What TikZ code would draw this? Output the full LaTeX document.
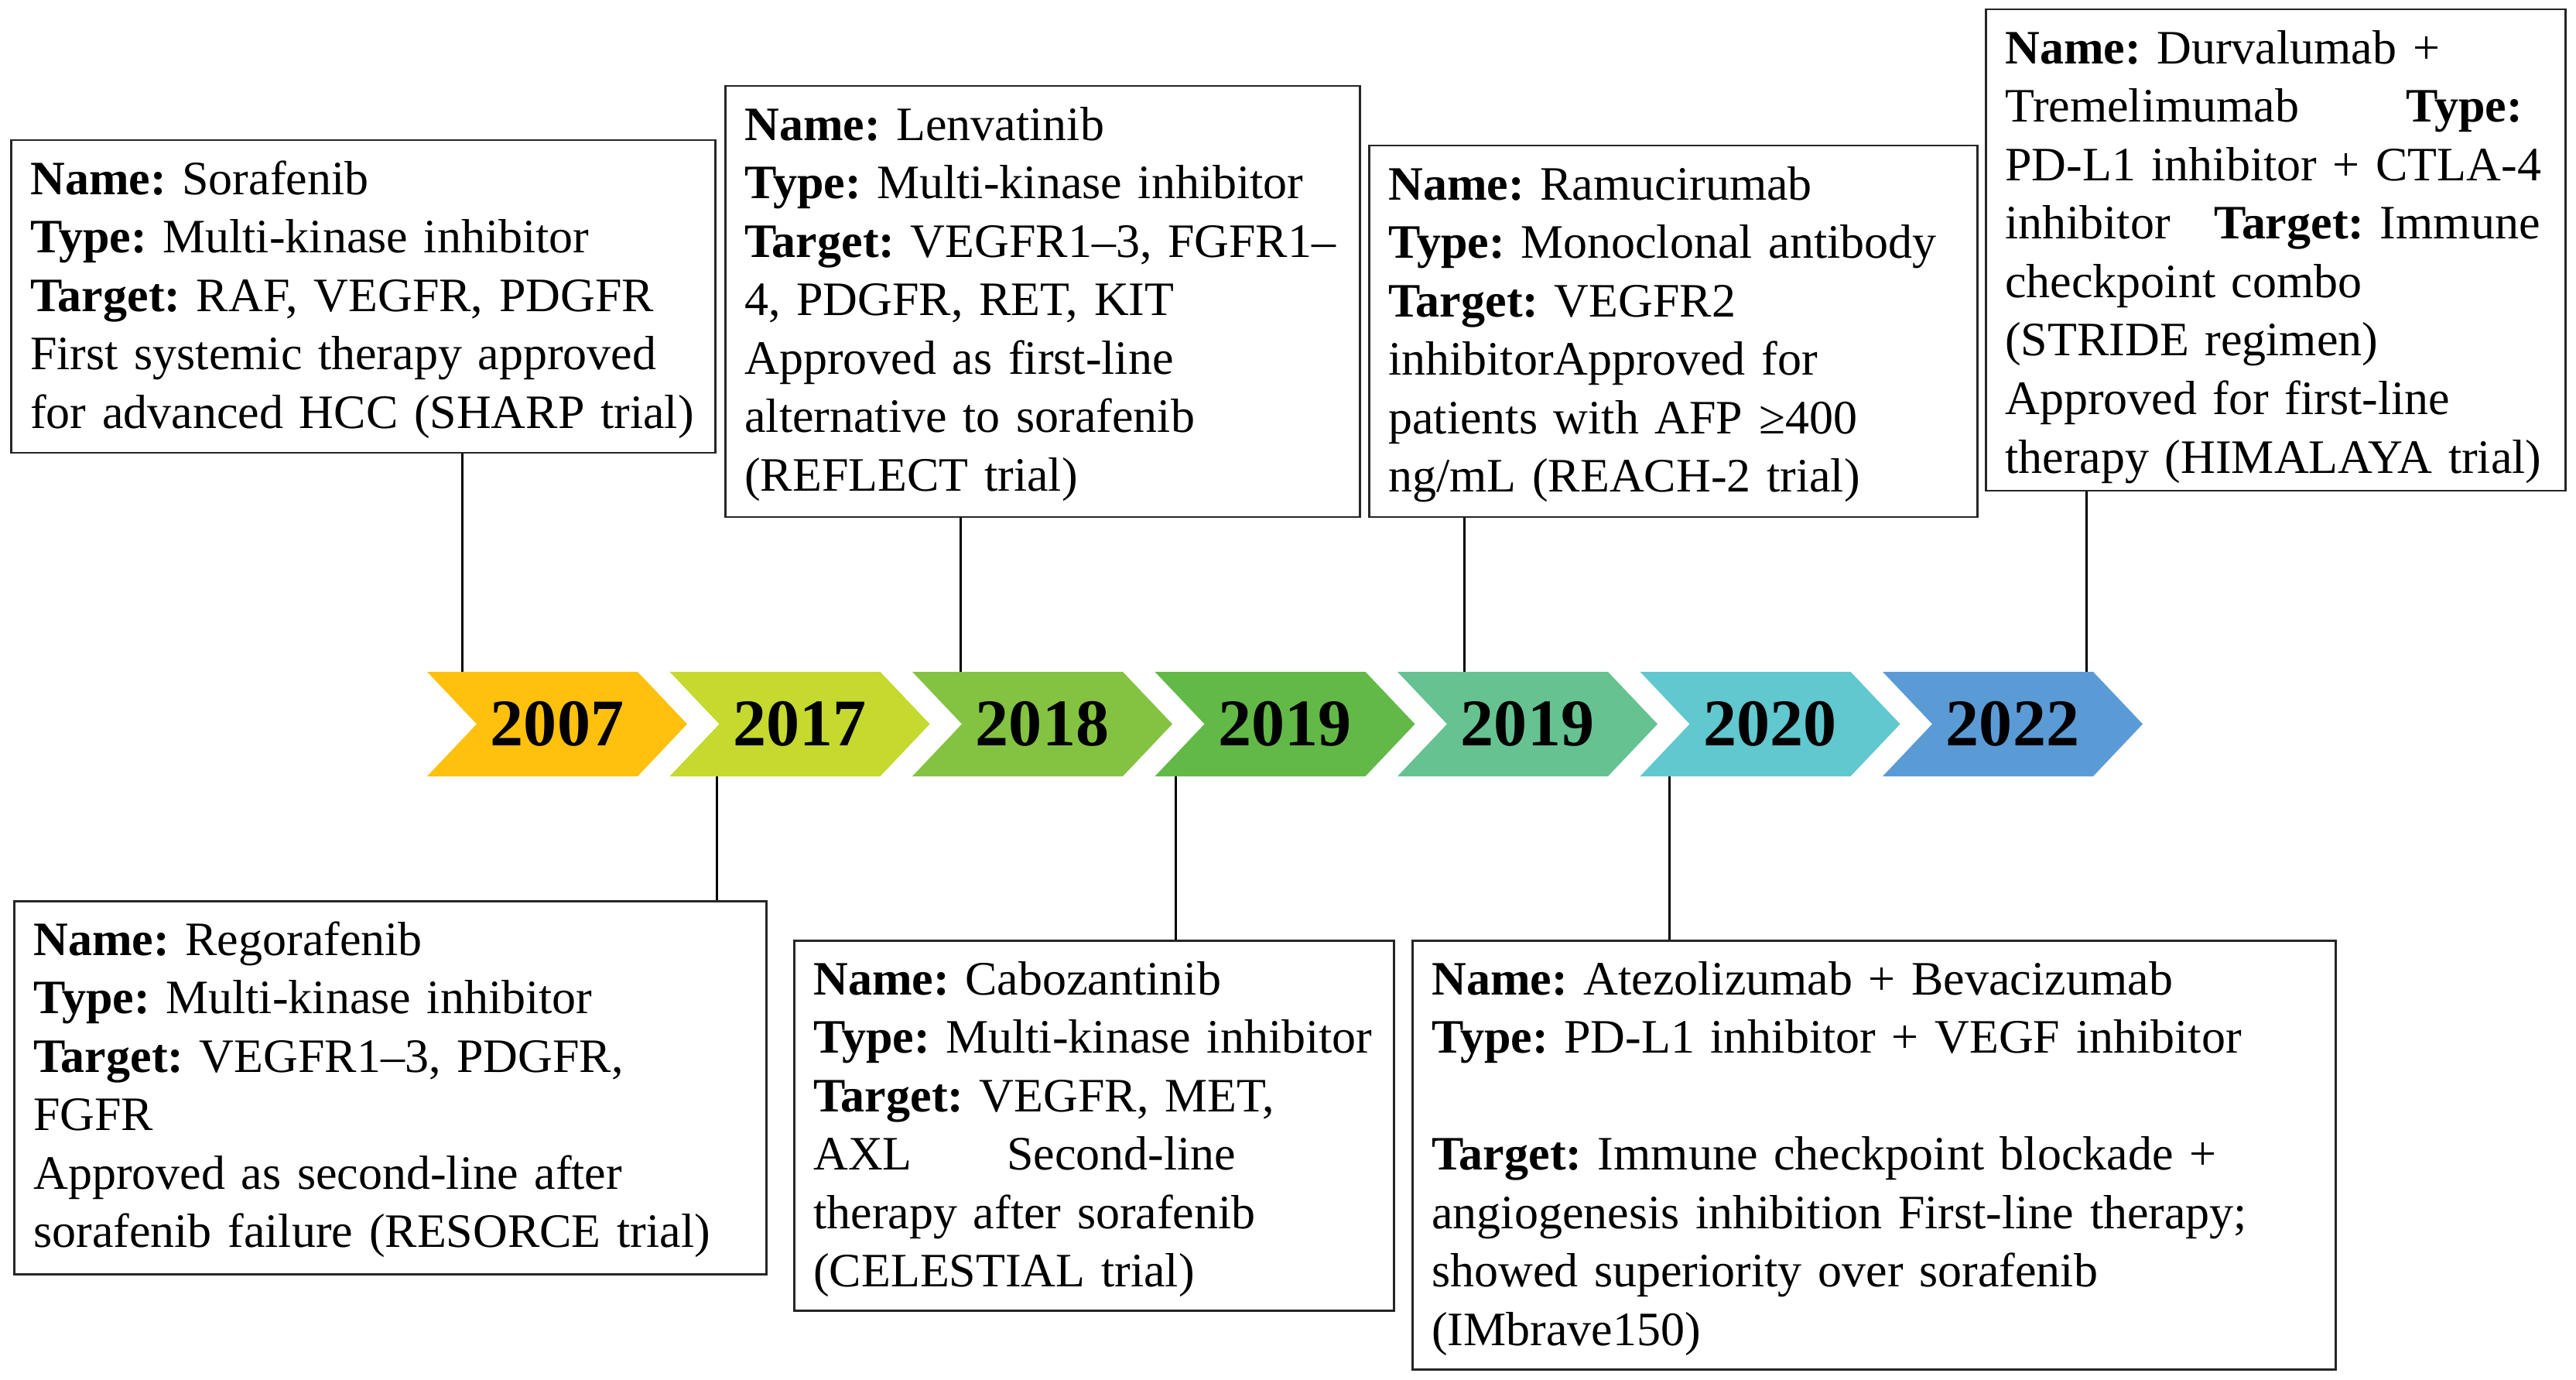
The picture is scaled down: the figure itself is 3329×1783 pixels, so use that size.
\documentclass[tikz,border=0pt]{standalone}
\usepackage{fontspec}
\setmainfont{Liberation Serif}
\definecolor{cA}{RGB}{255,193,14}
\definecolor{cB}{RGB}{197,217,46}
\definecolor{cC}{RGB}{132,195,65}
\definecolor{cD}{RGB}{98,185,71}
\definecolor{cE}{RGB}{102,194,145}
\definecolor{cF}{RGB}{96,200,206}
\definecolor{cG}{RGB}{91,155,213}
\newcommand{\boxbody}[2]{\vbox to #1{\frenchspacing\hyphenpenalty=10000\exhyphenpenalty=10000\leftskip=2.5mm\rightskip=0pt plus 1fil\vskip 1.7mm\relax\strut #2\par\vfil}}
\newcommand{\chev}[2]{\fill[#2] (#1,868) -- ++(272,0) -- ++(64,67.5) -- ++(-64,67.5) -- ++(-272,0) -- ++(64,-67.5) -- cycle;}
\tikzset{
  info/.style={draw=black!85, line width=0.25mm, fill=white, anchor=north west,
    inner xsep=0pt, inner ysep=0pt, align=left,
    font=\fontsize{17.64}{21.5}\selectfont},
  yearlbl/.style={font=\fontsize{24.5}{28}\selectfont\bfseries, inner sep=0pt,
    minimum width=33.6mm, minimum height=13.5mm},
  conn/.style={line width=0.3mm, black},
}
\begin{document}
\begin{tikzpicture}[x=0.1mm,y=-0.1mm]
\useasboundingbox (0,0) rectangle (3329,1783);

% boxes
\node[info, text width=91.0mm] (b1) at (13,180) {\boxbody{40.4mm}{\textbf{Name:} Sorafenib\\ \textbf{Type:} Multi-kinase inhibitor\\ \textbf{Target:} RAF, VEGFR, PDGFR\\ First systemic therapy approved\\ for advanced HCC (SHARP trial)}};
\node[info, text width=82.0mm] (b2) at (936,110) {\boxbody{55.7mm}{\textbf{Name:} Lenvatinib\\ \textbf{Type:} Multi-kinase inhibitor\\ \textbf{Target:} VEGFR1–3, FGFR1–\\ 4, PDGFR, RET, KIT\\ Approved as first-line\\ alternative to sorafenib\\ (REFLECT trial)}};
\node[info, text width=78.6mm] (b3) at (1768,187) {\boxbody{48.0mm}{\textbf{Name:} Ramucirumab\\ \textbf{Type:} Monoclonal antibody\\ \textbf{Target:} VEGFR2\\ inhibitorApproved for\\ patients with AFP ≥400\\ ng/mL (REACH-2 trial)}};
\node[info, text width=74.9mm] (b4) at (2565,11) {\boxbody{62.2mm}{\textbf{Name:} Durvalumab +\\ \makebox[51.8mm][l]{Tremelimumab}\textbf{Type:}\\ PD-L1 inhibitor + CTLA-4\\ \makebox[27mm][l]{inhibitor}\textbf{Target:} Immune\\ checkpoint combo\\ (STRIDE regimen)\\ Approved for first-line\\ therapy (HIMALAYA trial)}};
\node[info, text width=97.2mm] (b5) at (17,1163) {\boxbody{48.2mm}{\textbf{Name:} Regorafenib\\ \textbf{Type:} Multi-kinase inhibitor\\ \textbf{Target:} VEGFR1–3, PDGFR,\\ FGFR\\ Approved as second-line after\\ sorafenib failure (RESORCE trial)}};
\node[info, text width=77.5mm] (b6) at (1025,1214) {\boxbody{47.8mm}{\textbf{Name:} Cabozantinib\\ \textbf{Type:} Multi-kinase inhibitor\\ \textbf{Target:} VEGFR, MET,\\ \makebox[25mm][l]{AXL}Second-line\\ therapy after sorafenib\\ (CELESTIAL trial)}};
\node[info, text width=119.3mm] (b7) at (1824,1214) {\boxbody{55.4mm}{\textbf{Name:} Atezolizumab + Bevacizumab\\ \textbf{Type:} PD-L1 inhibitor + VEGF inhibitor\\ \mbox{}\\ \textbf{Target:} Immune checkpoint blockade +\\ angiogenesis inhibition First-line therapy;\\ showed superiority over sorafenib\\ (IMbrave150)}};

% connectors
\coordinate (p1) at (597,868);
\coordinate (p2) at (926,1003);
\coordinate (p3) at (1241,868);
\coordinate (p4) at (1519,1003);
\coordinate (p5) at (1892,868);
\coordinate (p6) at (2157,1003);
\coordinate (p7) at (2696,868);
\draw[conn] (p1) -- (p1 |- b1.south);
\draw[conn] (p2) -- (p2 |- b5.north);
\draw[conn] (p3) -- (p3 |- b2.south);
\draw[conn] (p4) -- (p4 |- b6.north);
\draw[conn] (p5) -- (p5 |- b3.south);
\draw[conn] (p6) -- (p6 |- b7.north);
\draw[conn] (p7) -- (p7 |- b4.south);

% chevrons
\chev{552}{cA}
\chev{865.5}{cB}
\chev{1179}{cC}
\chev{1492.5}{cD}
\chev{1806}{cE}
\chev{2119.5}{cF}
\chev{2433}{cG}
\node[yearlbl] (y1) at (720,935.5) {2007};
\node[yearlbl] (y2) at (1033.5,935.5) {2017};
\node[yearlbl] (y3) at (1347,935.5) {2018};
\node[yearlbl] (y4) at (1660.5,935.5) {2019};
\node[yearlbl] (y5) at (1974,935.5) {2019};
\node[yearlbl] (y6) at (2287.5,935.5) {2020};
\node[yearlbl] (y7) at (2601,935.5) {2022};
\end{tikzpicture}
\end{document}
